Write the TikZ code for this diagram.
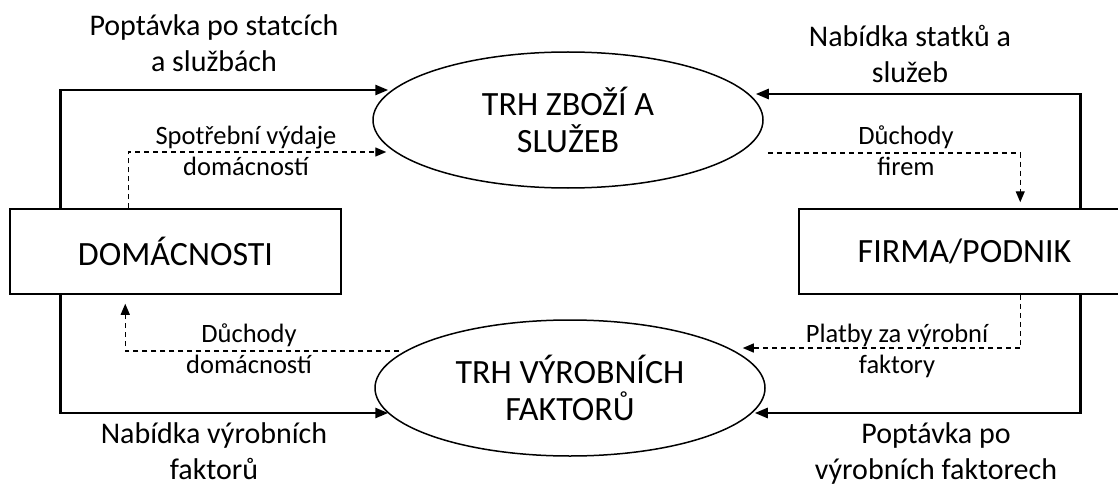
\documentclass[tikz,border=0pt]{standalone}
\usepackage{fontspec}
\setmainfont{Carlito}
\usetikzlibrary{arrows.meta,shapes.geometric}

\begin{document}
\begin{tikzpicture}[x=1pt,y=-1pt,
  box/.style={draw,line width=1.5pt,minimum width=331pt,minimum height=85pt,
    inner sep=0pt,font=\fontsize{34}{38}\selectfont},
  market/.style={ellipse,draw,line width=1.5pt,minimum width=390pt,
    minimum height=136pt,inner sep=0pt,align=center,
    font=\fontsize{34}{37}\selectfont},
  flow/.style={line width=2.6pt,-{Triangle[length=13pt,width=10pt]}},
  money/.style={line width=1.3pt,dash pattern=on 5pt off 4pt,
    -{Triangle[length=11pt,width=9pt]}},
  biglabel/.style={align=center,anchor=base,inner sep=0pt,
    font=\fontsize{30}{36}\selectfont},
  smalllabel/.style={align=center,anchor=base,inner sep=0pt,
    font=\fontsize{26.5}{31}\selectfont}]

\useasboundingbox (0,0) rectangle (1118,484);

% sectors and markets
\node[box] (dom) at (175.5,251.5) {DOMÁCNOSTI};
\node[box] (firm) at (964.5,251.5) {FIRMA/PODNIK};
\node[market] (goods) at (568,120) {TRH ZBOŽÍ A\\SLUŽEB};
\node[market] (factors) at (570,388) {TRH VÝROBNÍCH\\FAKTORŮ};

% real flows
\draw[flow] ([xshift=51pt]dom.north west) |- ([xshift=16pt,yshift=30pt]goods.west);
\draw[flow] ([xshift=282pt]firm.north west) |- ([xshift=-8pt,yshift=26pt]goods.east);
\draw[flow] ([xshift=282pt]firm.south west) |- ([xshift=-11pt,yshift=-25pt]factors.east);
\draw[flow] ([xshift=51pt]dom.south west) |- ([xshift=14pt,yshift=-25pt]factors.west);

% money flows
\draw[money] ([xshift=119pt]dom.north west) |- ([xshift=14pt,yshift=-32pt]goods.west);
\draw[money,shorten >=6pt] ([xshift=4pt,yshift=-33pt]goods.east) -| ([xshift=222pt]firm.north west);
\draw[money] ([xshift=222pt]firm.south west) |- ([xshift=-23pt,yshift=40pt]factors.east);
\draw[money,shorten >=9pt] ([xshift=25pt,yshift=37pt]factors.west) -| ([xshift=116pt]dom.south west);

% labels (anchored at the baseline of their last line)
\node[biglabel] (l1) at (214,72) {Poptávka po statcích\\a službách};
\node[biglabel] (l2) at (910,83) {Nabídka statků a\\služeb};
\node[biglabel] (l3) at (214,479) {Nabídka výrobních\\faktorů};
\node[biglabel] (l4) at (936,479) {Poptávka po\\výrobních faktorech};
\node[smalllabel] (l5) at (246,175) {Spotřební výdaje\\domácností};
\node[smalllabel] (l6) at (906,175) {Důchody\\firem};
\node[smalllabel] (l7) at (249,373) {Důchody\\domácností};
\node[smalllabel] (l8) at (897,373) {Platby za výrobní\\faktory};
\end{tikzpicture}
\end{document}
